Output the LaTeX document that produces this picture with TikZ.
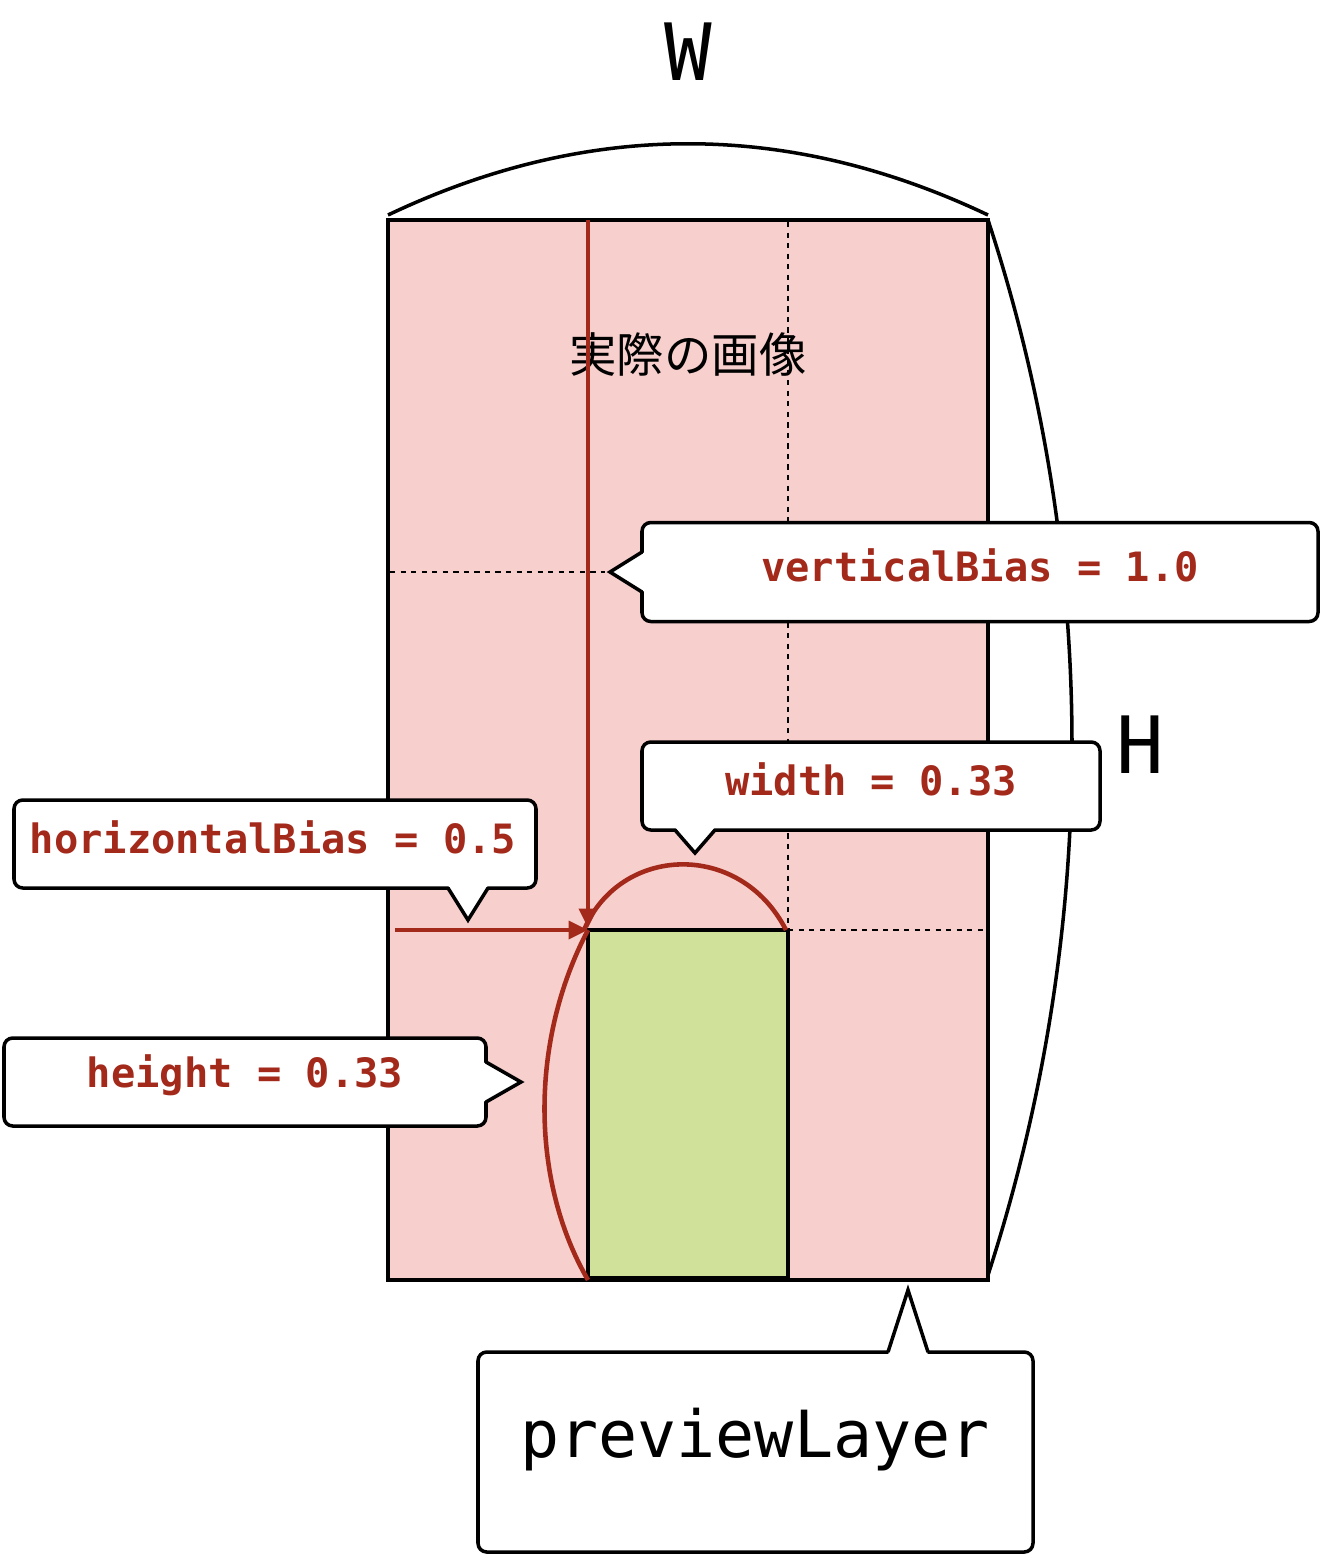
\documentclass[tikz,border=0pt]{standalone}
\usepackage{fontspec}
\setmonofont{DejaVu Sans Mono}
\newfontfamily\cjk{Noto Sans CJK JP}
\usetikzlibrary{arrows.meta}
\definecolor{bias}{HTML}{A3291B}
\definecolor{layerpink}{HTML}{F7CFCC}
\definecolor{cropgreen}{HTML}{D0E29A}
\tikzset{
  frame/.style={line width=2pt},
  guide/.style={dashed,dash pattern=on 3pt off 3pt,line width=1.5pt},
  biasline/.style={bias,line width=2.6pt},
  callout/.style={draw,fill=white,rounded corners=5pt,line width=2pt,inner sep=0pt},
  tip/.style={line width=2pt,line join=miter},
  label/.style={text=bias,font=\ttfamily\bfseries\fontsize{23}{26}\selectfont},
}
\begin{document}
\begin{tikzpicture}[x=0.02cm,y=-0.02cm]
  \useasboundingbox (0,0) rectangle (1322,1556);
  % frame of the image
  \draw[frame,fill=layerpink] (388,220) rectangle (988,1280);
  \node[font=\ttfamily\fontsize{45}{50}\selectfont] (wlabel) at (688,52) {W};
  \node[font=\ttfamily\fontsize{45}{50}\selectfont] (hlabel) at (1140,745) {H};
  \draw[frame] (388,215) .. controls (588,120) and (788,120) .. (988,215);
  \draw[frame] (988,220) .. controls (1100,560) and (1100,930) .. (988,1275);
  \node[font=\cjk\fontsize{27}{30}\selectfont] (real) at (688,355) {実際の画像};
  % guides
  \draw[guide] (788,222) -- (788,930);
  \draw[guide] (390,572) -- (605,572);
  \draw[guide] (788,930) -- (986,930);
  % cropped area
  \draw[frame,fill=cropgreen] (588,930) rectangle (788,1278);
  \draw[biasline,-{Triangle[length=11pt,width=10pt]}] (588,220) -- (588,928);
  \draw[biasline,-{Triangle[length=11pt,width=10pt]}] (395,930) -- (588,930);
  \draw[biasline] (584,930) .. controls (620,845) and (740,840) .. (786,930);
  \draw[biasline] (588,930) .. controls (530,1040) and (530,1180) .. (588,1280);
  % callouts
  \node[callout,minimum width=676*0.02cm,minimum height=99*0.02cm] (vbox) at (980,572) {};
  \node[label] at (980,565) {verticalBias = 1.0};
  \fill[white] (645,552) -- (608,572) -- (645,592) -- cycle;
  \draw[tip] (642,552) -- (610,572) -- (642,592);
  \node[callout,minimum width=458*0.02cm,minimum height=88*0.02cm] (wbox) at (871,786) {};
  \node[label] at (871,779) {width = 0.33};
  \fill[white] (675,827) -- (695,853) -- (715,827) -- cycle;
  \draw[tip] (675,830) -- (695,853) -- (715,830);
  \node[callout,minimum width=522*0.02cm,minimum height=88*0.02cm] (hbbox) at (275,844) {};
  \node[label] at (273,837) {horizontalBias = 0.5};
  \fill[white] (448,885) -- (468,920) -- (488,885) -- cycle;
  \draw[tip] (448,888) -- (468,920) -- (488,888);
  \node[callout,minimum width=482*0.02cm,minimum height=88*0.02cm] (hgbox) at (245,1082) {};
  \node[label] at (245,1075) {height = 0.33};
  \fill[white] (483,1062) -- (521,1082) -- (483,1102) -- cycle;
  \draw[tip] (486,1062) -- (521,1082) -- (486,1102);
  \node[callout,minimum width=555*0.02cm,minimum height=200*0.02cm] (pbox) at (755.5,1452) {};
  \node[font=\ttfamily\fontsize{37}{40}\selectfont] at (755,1440) {previewLayer};
  \fill[white] (888,1355) -- (908,1290) -- (928,1355) -- cycle;
  \draw[tip] (888,1352) -- (908,1290) -- (928,1352);
\end{tikzpicture}
\end{document}
